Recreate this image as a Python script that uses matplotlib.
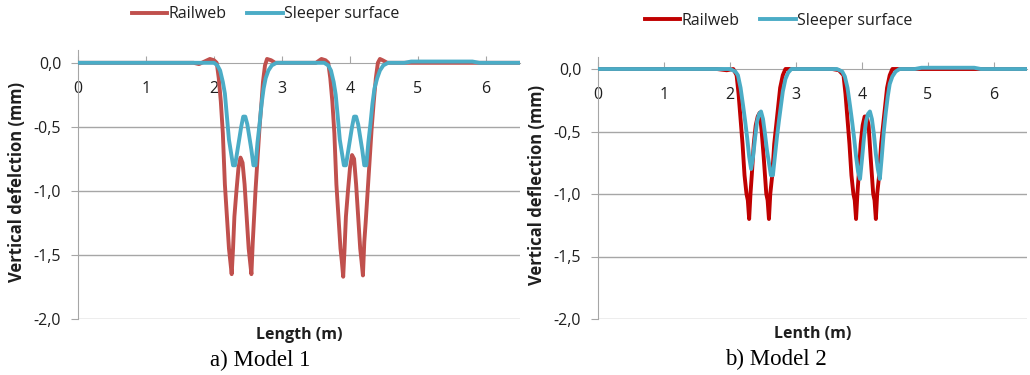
import matplotlib.pyplot as plt

plt.rcParams['font.family'] = ['Open Sans', 'DejaVu Sans']

# ---- Data ----
# Model 1
m1_rail_x = [0.0, 1.70, 1.78, 1.86, 1.94, 2.00, 2.04, 2.07, 2.10, 2.13, 2.16, 2.19, 2.22, 2.24,
             2.26, 2.28, 2.30, 2.33, 2.36, 2.39, 2.42, 2.45, 2.48, 2.51, 2.53, 2.55, 2.57, 2.59,
             2.61, 2.64, 2.67, 2.70, 2.72, 2.75, 2.78, 2.84, 2.90,
             3.50, 3.58, 3.64, 3.68, 3.71, 3.74, 3.77, 3.80, 3.83, 3.86, 3.88, 3.90, 3.92, 3.94,
             3.97, 4.00, 4.03, 4.06, 4.09, 4.12, 4.15, 4.17, 4.19, 4.21, 4.23, 4.26, 4.29, 4.32,
             4.35, 4.38, 4.41, 4.44, 4.48, 4.55, 6.5]
m1_rail_y = [0.0, 0.0, -0.01, 0.01, 0.03, 0.02, 0.0, -0.12, -0.3, -0.55, -0.95, -1.2, -1.45, -1.55,
             -1.65, -1.45, -1.2, -1.0, -0.82, -0.74, -0.78, -0.95, -1.2, -1.45, -1.55, -1.65, -1.4, -1.2,
             -1.0, -0.75, -0.5, -0.3, -0.15, -0.02, 0.03, 0.02, 0.0,
             0.0, 0.03, 0.02, 0.0, -0.12, -0.3, -0.55, -0.95, -1.2, -1.45, -1.55, -1.67, -1.45, -1.2,
             -1.0, -0.82, -0.72, -0.75, -0.95, -1.2, -1.45, -1.55, -1.66, -1.4, -1.25, -1.0, -0.75, -0.5,
             -0.3, -0.12, 0.0, 0.03, 0.02, 0.0, 0.0]

m1_sleeper_x = [0.0, 2.00, 2.05, 2.09, 2.13, 2.16, 2.19, 2.22, 2.25, 2.28, 2.31, 2.34, 2.37, 2.40,
                2.43, 2.46, 2.49, 2.52, 2.55, 2.58, 2.61, 2.64, 2.67, 2.70, 2.73, 2.76, 2.80, 2.85, 2.92,
                3.62, 3.68, 3.72, 3.76, 3.79, 3.82, 3.85, 3.88, 3.91, 3.94, 3.97, 4.00, 4.03, 4.06,
                4.09, 4.12, 4.15, 4.18, 4.21, 4.24, 4.27, 4.30, 4.33, 4.36, 4.40, 4.44, 4.49, 4.56,
                4.80, 4.90, 5.80, 5.90, 6.5]
m1_sleeper_y = [0.0, 0.0, -0.02, -0.06, -0.15, -0.24, -0.42, -0.6, -0.7, -0.8, -0.8, -0.7, -0.6, -0.5,
                -0.42, -0.42, -0.48, -0.58, -0.68, -0.8, -0.8, -0.62, -0.48, -0.32, -0.2, -0.12, -0.06, -0.02, 0.0,
                0.0, -0.02, -0.06, -0.15, -0.25, -0.42, -0.6, -0.7, -0.8, -0.8, -0.7, -0.6, -0.5, -0.42,
                -0.42, -0.48, -0.58, -0.68, -0.8, -0.8, -0.62, -0.48, -0.32, -0.2, -0.12, -0.06, -0.02, 0.0,
                0.0, 0.01, 0.01, 0.0, 0.0]

# Model 2
m2_rail_x = [0.0, 1.80, 1.95, 2.05, 2.10, 2.13, 2.16, 2.19, 2.22, 2.25, 2.27, 2.29, 2.31, 2.33, 2.36,
             2.39, 2.42, 2.45, 2.48, 2.51, 2.53, 2.55, 2.57, 2.59, 2.61, 2.64, 2.67, 2.70, 2.73, 2.76,
             2.80, 2.84,
             3.55, 3.65, 3.72, 3.75, 3.78, 3.81, 3.84, 3.87, 3.89, 3.91, 3.93, 3.95, 3.98, 4.01, 4.04,
             4.07, 4.10, 4.13, 4.15, 4.17, 4.19, 4.21, 4.23, 4.26, 4.29, 4.32, 4.35, 4.38, 4.42, 4.46, 6.5]
m2_rail_y = [0.0, 0.0, -0.01, 0.0, -0.05, -0.2, -0.4, -0.6, -0.85, -1.0, -1.05, -1.2, -1.0, -0.85, -0.6,
             -0.45, -0.38, -0.35, -0.5, -0.7, -0.85, -1.0, -1.05, -1.2, -1.0, -0.85, -0.6, -0.45, -0.3, -0.15,
             -0.05, 0.0,
             0.0, -0.01, -0.05, -0.2, -0.4, -0.6, -0.85, -1.0, -1.05, -1.2, -1.0, -0.85, -0.6, -0.45, -0.38,
             -0.38, -0.45, -0.7, -0.85, -1.0, -1.05, -1.2, -1.0, -0.85, -0.6, -0.45, -0.3, -0.15, -0.05, 0.0, 0.0]

m2_sleeper_x = [0.0, 2.00, 2.08, 2.12, 2.16, 2.20, 2.23, 2.26, 2.29, 2.32, 2.35, 2.38, 2.41, 2.44, 2.47,
                2.50, 2.53, 2.56, 2.59, 2.62, 2.65, 2.68, 2.71, 2.74, 2.77, 2.80, 2.84, 2.88, 2.93,
                3.62, 3.70, 3.74, 3.78, 3.82, 3.85, 3.88, 3.91, 3.94, 3.97, 4.00, 4.03, 4.06, 4.09,
                4.12, 4.15, 4.18, 4.21, 4.24, 4.27, 4.30, 4.33, 4.36, 4.39, 4.42, 4.46, 4.51, 4.57,
                4.80, 4.90, 5.70, 5.80, 6.5]
m2_sleeper_y = [0.0, 0.0, -0.02, -0.05, -0.15, -0.3, -0.42, -0.55, -0.7, -0.8, -0.7, -0.55, -0.42, -0.36, -0.34,
                -0.4, -0.52, -0.65, -0.75, -0.85, -0.85, -0.7, -0.55, -0.42, -0.3, -0.18, -0.08, -0.03, 0.0,
                0.0, -0.02, -0.06, -0.15, -0.3, -0.42, -0.55, -0.7, -0.82, -0.88, -0.72, -0.55, -0.42, -0.36,
                -0.34, -0.4, -0.52, -0.68, -0.8, -0.88, -0.7, -0.5, -0.35, -0.22, -0.12, -0.06, -0.02, 0.0,
                0.0, 0.01, 0.01, 0.0, 0.0]

x_ticks = [0, 1, 2, 3, 4, 5, 6]
y_ticks = [0.0, -0.5, -1.0, -1.5, -2.0]
y_tick_labels = ["0,0", "-0,5", "-1,0", "-1,5", "-2,0"]
series_names = ["Railweb", "Sleeper surface"]

sleeper_color = "#4BACC6"
grid_color = "#A6A6A6"
text_color = "#1F1F1F"

fig = plt.figure(figsize=(10.30, 3.75), dpi=100)
ax1 = fig.add_axes([78 / 1030, 1 - 319 / 375, 442 / 1030, 269 / 375])
ax2 = fig.add_axes([598 / 1030, 1 - 319 / 375, 429 / 1030, 262.5 / 375])


def draw_panel(ax, rx, ry, sx, sy, rail_color, ylabel, xlabel, caption, legend_pos, ylabel_x):
    ax.set_xlim(0, 6.5)
    ax.set_ylim(-2.0, 0.1)
    for y in y_ticks[1:]:
        ax.axhline(y, color=grid_color, lw=1, zorder=1)
    l1, = ax.plot(rx, ry, color=rail_color, lw=2.8, zorder=3)
    l2, = ax.plot(sx, sy, color=sleeper_color, lw=2.8, zorder=4)

    for s in ["top", "right"]:
        ax.spines[s].set_visible(False)
    ax.spines["bottom"].set_position(("data", 0))
    ax.spines["bottom"].set_color(grid_color)
    ax.spines["left"].set_color(grid_color)
    ax.spines["bottom"].set_zorder(2)

    ax.set_xticks(x_ticks)
    ax.set_xticklabels([str(t) for t in x_ticks])
    ax.tick_params(axis="x", direction="in", length=5, color=grid_color, pad=13,
                   labelsize=11.5, labelcolor=text_color)
    ax.set_yticks(y_ticks)
    ax.set_yticklabels(y_tick_labels)
    ax.tick_params(axis="y", direction="out", length=5, color=grid_color, pad=7,
                   labelsize=11.5, labelcolor=text_color)

    ax.set_ylabel(ylabel, fontsize=12, fontweight="bold", color=text_color)
    ax.yaxis.set_label_coords(ylabel_x, 0.51)
    ax.text(0.5, -0.028, xlabel, transform=ax.transAxes, ha="center", va="top",
            fontsize=11.5, fontweight="bold", color=text_color)
    ax.text(0.5 + caption[1], -0.115, caption[0], transform=ax.transAxes, ha="center", va="top",
            fontsize=16.5, family="Liberation Serif", color="black")

    fig.legend([l1, l2], series_names, loc="center", bbox_to_anchor=legend_pos, ncol=2,
               frameon=False, fontsize=11.5, handlelength=2.2, handletextpad=0.1,
               columnspacing=1.3, labelcolor=text_color)


draw_panel(ax1, m1_rail_x, m1_rail_y, m1_sleeper_x, m1_sleeper_y, "#C0504D",
           "Vertical defelction (mm)", "Length (m)", ("a) Model 1", -0.087), (0.258, 0.962), -0.118)
draw_panel(ax2, m2_rail_x, m2_rail_y, m2_sleeper_x, m2_sleeper_y, "#C00000",
           "Vertical deflection (mm)", "Lenth (m)", ("b) Model 2", -0.086), (0.756, 0.944), -0.121)

fig.savefig("out.png", dpi=100)
